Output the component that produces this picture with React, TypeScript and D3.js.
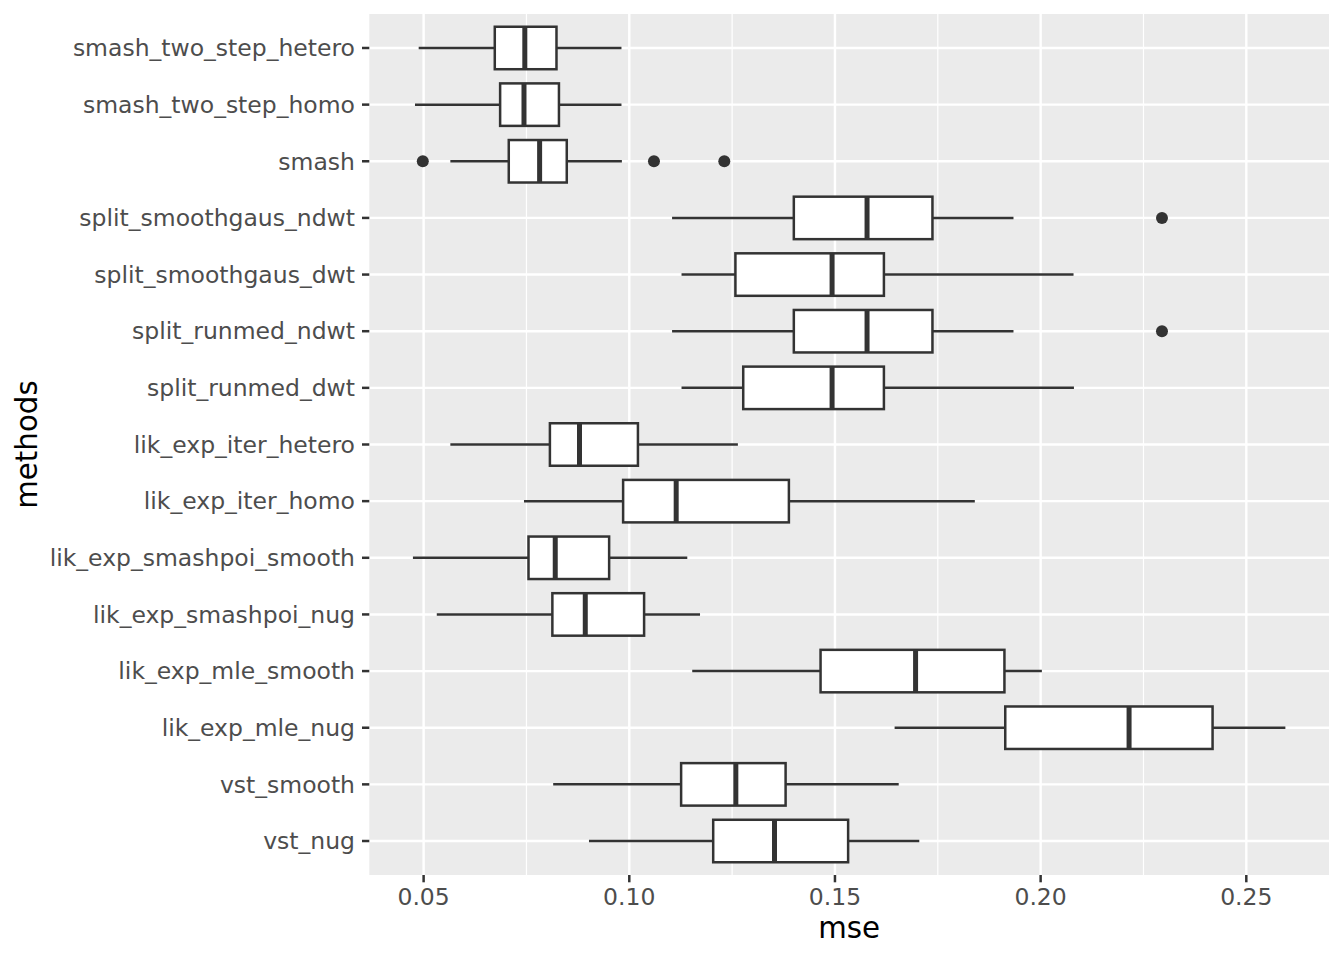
import * as d3 from "d3";
import React from "react";

// methods, top to bottom as they appear on the y axis
const methods = [
  "smash_two_step_hetero",
  "smash_two_step_homo",
  "smash",
  "split_smoothgaus_ndwt",
  "split_smoothgaus_dwt",
  "split_runmed_ndwt",
  "split_runmed_dwt",
  "lik_exp_iter_hetero",
  "lik_exp_iter_homo",
  "lik_exp_smashpoi_smooth",
  "lik_exp_smashpoi_nug",
  "lik_exp_mle_smooth",
  "lik_exp_mle_nug",
  "vst_smooth",
  "vst_nug",
];

// boxplot statistics (mse), one value per method
const whiskerLow = [0.0488, 0.0479, 0.0565, 0.1104, 0.1127, 0.1104, 0.1127, 0.0565, 0.0744, 0.0474, 0.0532, 0.1153, 0.1645, 0.0815, 0.0902];
const q1 = [0.0673, 0.0686, 0.0707, 0.14, 0.1258, 0.14, 0.1277, 0.0807, 0.0985, 0.0755, 0.0813, 0.1465, 0.1914, 0.1126, 0.1204];
const medians = [0.0746, 0.0744, 0.0782, 0.1578, 0.1493, 0.1578, 0.1493, 0.0879, 0.1114, 0.082, 0.0893, 0.1696, 0.2215, 0.1259, 0.1353];
const q3 = [0.0823, 0.0829, 0.0848, 0.1737, 0.1619, 0.1737, 0.1619, 0.1021, 0.1388, 0.0951, 0.1036, 0.1912, 0.2418, 0.138, 0.1532];
const whiskerHigh = [0.0981, 0.0981, 0.0982, 0.1934, 0.208, 0.1934, 0.2081, 0.1264, 0.184, 0.1141, 0.1172, 0.2003, 0.2595, 0.1655, 0.1705];

// outlying points
const outliers: { method: string; value: number }[] = [
  { method: "smash", value: 0.0498 },
  { method: "smash", value: 0.106 },
  { method: "smash", value: 0.1231 },
  { method: "split_smoothgaus_ndwt", value: 0.2295 },
  { method: "split_runmed_ndwt", value: 0.2295 },
];

const xTicks = [0.05, 0.1, 0.15, 0.2, 0.25];
const xMinor = [0.075, 0.125, 0.175, 0.225];

const width = 1344;
const height = 960;
const panel = { left: 369.3, right: 1329, top: 14, bottom: 875 };

const font = "'DejaVu Sans', sans-serif";
const ink = "#333333";
const lw = 2.5;

const App: React.FC = () => {
  const allValues = [...whiskerLow, ...whiskerHigh, ...outliers.map((o) => o.value)];
  const lo = d3.min(allValues)!;
  const hi = d3.max(allValues)!;
  const pad = (hi - lo) * 0.05; // ggplot default expansion

  const x = d3.scaleLinear().domain([lo - pad, hi + pad]).range([panel.left, panel.right]);
  const y = d3.scalePoint<string>().domain(methods).range([panel.top, panel.bottom]).padding(0.6);
  const half = (y.step() * 0.75) / 2;

  return (
    <div style={{ position: "absolute", left: 0, top: 0 }}>
      <svg width={width} height={height} style={{ display: "block", background: "#fff" }}>
        {/* panel */}
        <rect
          x={panel.left}
          y={panel.top}
          width={panel.right - panel.left}
          height={panel.bottom - panel.top}
          fill="#EBEBEB"
        />
        {xMinor.map((t) => (
          <line key={"mn" + t} x1={x(t)} x2={x(t)} y1={panel.top} y2={panel.bottom} stroke="#fff" strokeWidth={1.2} />
        ))}
        {xTicks.map((t) => (
          <line key={"mj" + t} x1={x(t)} x2={x(t)} y1={panel.top} y2={panel.bottom} stroke="#fff" strokeWidth={2.4} />
        ))}
        {methods.map((m) => (
          <line key={"hg" + m} x1={panel.left} x2={panel.right} y1={y(m)} y2={y(m)} stroke="#fff" strokeWidth={2.4} />
        ))}

        {/* boxes */}
        {methods.map((m, i) => {
          const cy = y(m)!;
          return (
            <g key={"box" + m}>
              <line x1={x(whiskerLow[i])} x2={x(q1[i])} y1={cy} y2={cy} stroke={ink} strokeWidth={lw} />
              <line x1={x(q3[i])} x2={x(whiskerHigh[i])} y1={cy} y2={cy} stroke={ink} strokeWidth={lw} />
              <rect
                x={x(q1[i])}
                y={cy - half}
                width={x(q3[i]) - x(q1[i])}
                height={half * 2}
                fill="#fff"
                stroke={ink}
                strokeWidth={lw}
              />
              <line x1={x(medians[i])} x2={x(medians[i])} y1={cy - half} y2={cy + half} stroke={ink} strokeWidth={5} />
            </g>
          );
        })}
        {outliers.map((o, i) => (
          <circle key={"o" + i} cx={x(o.value)} cy={y(o.method)} r={6} fill={ink} />
        ))}

        {/* y axis */}
        {methods.map((m) => (
          <g key={"yt" + m}>
            <line x1={panel.left - 7.3} x2={panel.left} y1={y(m)} y2={y(m)} stroke={ink} strokeWidth={lw} />
            <text
              x={355}
              y={y(m)}
              dy="0.35em"
              textAnchor="end"
              fill="#4D4D4D"
              fontFamily={font}
              fontSize={23.5}
            >
              {m}
            </text>
          </g>
        ))}

        {/* x axis */}
        {xTicks.map((t) => (
          <g key={"xt" + t}>
            <line x1={x(t)} x2={x(t)} y1={panel.bottom} y2={panel.bottom + 7.3} stroke={ink} strokeWidth={lw} />
            <text x={x(t)} y={905} textAnchor="middle" fill="#4D4D4D" fontFamily={font} fontSize={23.5}>
              {d3.format(".2f")(t)}
            </text>
          </g>
        ))}

        {/* axis titles */}
        <text
          x={(panel.left + panel.right) / 2}
          y={938}
          textAnchor="middle"
          fill="#000"
          fontFamily={font}
          fontSize={29.3}
        >
          mse
        </text>
        <text
          transform={`translate(37,${(panel.top + panel.bottom) / 2}) rotate(-90)`}
          textAnchor="middle"
          fill="#000"
          fontFamily={font}
          fontSize={29.3}
        >
          methods
        </text>
      </svg>
    </div>
  );
};

export default App;
